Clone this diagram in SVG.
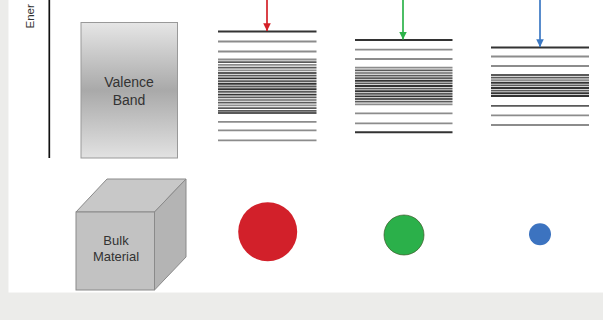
<svg xmlns="http://www.w3.org/2000/svg" width="603" height="320" viewBox="0 0 603 320">
<defs>
<linearGradient id="vb" x1="0" y1="0" x2="0" y2="1">
<stop offset="0" stop-color="#e6e6e6"/>
<stop offset="0.5" stop-color="#a9a9a9"/>
<stop offset="1" stop-color="#e2e2e2"/>
</linearGradient>
<marker id="ah-r" viewBox="0 0 10 10" refX="10" refY="5" markerWidth="4.5" markerHeight="4.5" orient="auto"><path d="M0,0 L10,5 L0,10 z" fill="#d42027"/></marker>
<marker id="ah-g" viewBox="0 0 10 10" refX="10" refY="5" markerWidth="4.5" markerHeight="4.5" orient="auto"><path d="M0,0 L10,5 L0,10 z" fill="#2db34a"/></marker>
<marker id="ah-b" viewBox="0 0 10 10" refX="10" refY="5" markerWidth="4.5" markerHeight="4.5" orient="auto"><path d="M0,0 L10,5 L0,10 z" fill="#3b78c3"/></marker>
</defs>
<style>
.lbl{font-family:"Liberation Sans",Arial,sans-serif;fill:#333;text-anchor:middle}
.dk{stroke:#333;stroke-width:1.9}
.md{stroke:#5a5a5a;stroke-width:1.8}
.lt{stroke:#8c8c8c;stroke-width:1.8}
</style>
<rect x="0" y="0" width="603" height="320" fill="#ececea"/>
<rect x="8.5" y="0" width="594.5" height="292.5" fill="#ffffff"/>

<g id="energy-axis">
<line x1="49.3" y1="0" x2="49.3" y2="158" stroke="#111" stroke-width="1.7"/>
<text class="lbl" x="0" y="0" font-size="11.5" style="text-anchor:start" transform="translate(34,28.5) rotate(-90)">Ener</text>
</g>

<g id="valence-band">
<rect x="81" y="22.5" width="96.5" height="135.5" fill="url(#vb)" stroke="#999" stroke-width="1"/>
<text class="lbl" x="129" y="87" font-size="14">Valence</text>
<text class="lbl" x="129" y="105" font-size="14">Band</text>
</g>

<g id="bands-red">
<line class="dk" x1="218" y1="31.5" x2="316.5" y2="31.5"/>
<line class="lt" x1="218" y1="41.5" x2="316.5" y2="41.5"/>
<line class="lt" x1="218" y1="51.5" x2="316.5" y2="51.5"/>
<g>
<line class="lt" x1="218" y1="59.5" x2="316.5" y2="59.5"/>
<line class="md" x1="218" y1="62.2" x2="316.5" y2="62.2"/>
<line class="lt" x1="218" y1="64.9" x2="316.5" y2="64.9"/>
<line class="md" x1="218" y1="67.6" x2="316.5" y2="67.6"/>
<line class="lt" x1="218" y1="70.3" x2="316.5" y2="70.3"/>
<line class="md" x1="218" y1="73.0" x2="316.5" y2="73.0"/>
<line class="md" x1="218" y1="75.7" x2="316.5" y2="75.7"/>
<line class="dk" x1="218" y1="78.4" x2="316.5" y2="78.4"/>
<line class="md" x1="218" y1="81.1" x2="316.5" y2="81.1"/>
<line class="dk" x1="218" y1="83.8" x2="316.5" y2="83.8"/>
<line class="md" x1="218" y1="86.5" x2="316.5" y2="86.5"/>
<line class="dk" x1="218" y1="89.2" x2="316.5" y2="89.2"/>
<line class="md" x1="218" y1="91.9" x2="316.5" y2="91.9"/>
<line class="dk" x1="218" y1="94.6" x2="316.5" y2="94.6"/>
<line class="md" x1="218" y1="97.3" x2="316.5" y2="97.3"/>
<line class="lt" x1="218" y1="100.0" x2="316.5" y2="100.0"/>
<line class="md" x1="218" y1="102.7" x2="316.5" y2="102.7"/>
<line class="lt" x1="218" y1="105.4" x2="316.5" y2="105.4"/>
<line class="md" x1="218" y1="108.1" x2="316.5" y2="108.1"/>
<line class="md" x1="218" y1="110.8" x2="316.5" y2="110.8"/>
<line class="md" x1="218" y1="113.0" x2="316.5" y2="113.0"/>
</g>
<line class="lt" x1="218" y1="121.8" x2="316.5" y2="121.8"/>
<line class="lt" x1="218" y1="130.3" x2="316.5" y2="130.3"/>
<line class="lt" x1="218" y1="140.3" x2="316.5" y2="140.3"/>
</g>

<g id="bands-green">
<line class="dk" x1="355" y1="40" x2="452.5" y2="40"/>
<line class="lt" x1="355" y1="49.7" x2="452.5" y2="49.7"/>
<line class="lt" x1="355" y1="59" x2="452.5" y2="59"/>
<line class="lt" x1="355" y1="67.7" x2="452.5" y2="67.7"/>
<line class="md" x1="355" y1="70.3" x2="452.5" y2="70.3"/>
<line class="lt" x1="355" y1="73.0" x2="452.5" y2="73.0"/>
<line class="md" x1="355" y1="75.6" x2="452.5" y2="75.6"/>
<line class="md" x1="355" y1="78.2" x2="452.5" y2="78.2"/>
<line class="dk" x1="355" y1="80.8" x2="452.5" y2="80.8"/>
<line class="md" x1="355" y1="83.4" x2="452.5" y2="83.4"/>
<line class="dk" x1="355" y1="86.0" x2="452.5" y2="86.0"/>
<line class="md" x1="355" y1="88.6" x2="452.5" y2="88.6"/>
<line class="dk" x1="355" y1="91.2" x2="452.5" y2="91.2"/>
<line class="md" x1="355" y1="93.8" x2="452.5" y2="93.8"/>
<line class="dk" x1="355" y1="96.4" x2="452.5" y2="96.4"/>
<line class="md" x1="355" y1="99.0" x2="452.5" y2="99.0"/>
<line class="md" x1="355" y1="101.6" x2="452.5" y2="101.6"/>
<line class="lt" x1="355" y1="104.3" x2="452.5" y2="104.3"/>
<line class="lt" x1="355" y1="113.3" x2="452.5" y2="113.3"/>
<line class="lt" x1="355" y1="123.3" x2="452.5" y2="123.3"/>
<line class="dk" x1="355" y1="132.3" x2="452.5" y2="132.3"/>
</g>

<g id="bands-blue">
<line class="dk" x1="491" y1="47.5" x2="589" y2="47.5"/>
<line class="lt" x1="491" y1="56.5" x2="589" y2="56.5"/>
<line class="lt" x1="491" y1="66" x2="589" y2="66"/>
<line class="md" x1="491" y1="75" x2="589" y2="75"/>
<line class="md" x1="491" y1="77.6" x2="589" y2="77.6"/>
<line class="lt" x1="491" y1="80.2" x2="589" y2="80.2"/>
<line class="dk" x1="491" y1="82.8" x2="589" y2="82.8"/>
<line class="md" x1="491" y1="85.4" x2="589" y2="85.4"/>
<line class="dk" x1="491" y1="88.0" x2="589" y2="88.0"/>
<line class="md" x1="491" y1="90.6" x2="589" y2="90.6"/>
<line class="dk" x1="491" y1="93.2" x2="589" y2="93.2"/>
<line class="dk" x1="491" y1="96.0" x2="589" y2="96.0"/>
<line class="md" x1="491" y1="105.8" x2="589" y2="105.8"/>
<line class="lt" x1="491" y1="115.4" x2="589" y2="115.4"/>
<line class="lt" x1="491" y1="125" x2="589" y2="125"/>
</g>

<g id="connectors">
<line x1="267" y1="0" x2="267" y2="31" stroke="#d42027" stroke-width="1.7" marker-end="url(#ah-r)"/>
<line x1="403" y1="0" x2="403" y2="39.5" stroke="#2db34a" stroke-width="1.7" marker-end="url(#ah-g)"/>
<line x1="540" y1="0" x2="540" y2="47" stroke="#3b78c3" stroke-width="1.7" marker-end="url(#ah-b)"/>
</g>

<g id="bulk-material">
<polygon points="76,212 107,179 186,179 154.5,212" fill="#c8c8c8" stroke="#8a8a8a" stroke-width="1"/>
<polygon points="154.5,212 186,179 186,257 154.5,290" fill="#b4b4b4" stroke="#8a8a8a" stroke-width="1"/>
<rect x="76" y="212" width="78.5" height="78" fill="#c2c2c2" stroke="#8a8a8a" stroke-width="1"/>
<text class="lbl" x="116" y="245" font-size="13">Bulk</text>
<text class="lbl" x="116" y="261" font-size="13">Material</text>
</g>

<g id="dot-red"><circle cx="267.7" cy="231.7" r="29.5" fill="#d2202a"/></g>
<g id="dot-green"><circle cx="404" cy="235" r="20" fill="#2bb04a" stroke="#3d5a2a" stroke-width="0.7"/></g>
<g id="dot-blue"><circle cx="540" cy="234.3" r="11" fill="#3c73c0"/></g>
</svg>
